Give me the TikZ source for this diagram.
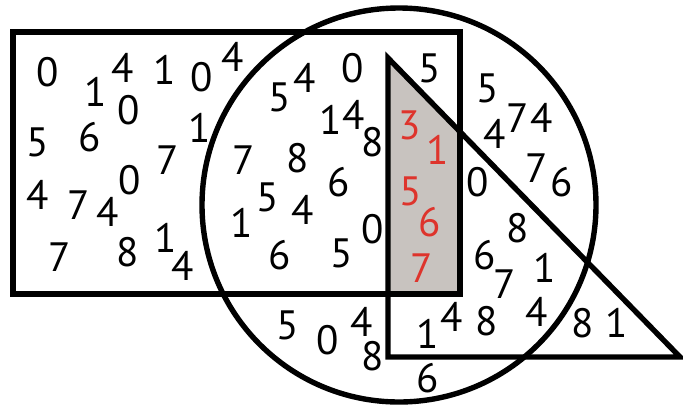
\documentclass[tikz,border=0pt]{standalone}
\usepackage{fontspec}
\setmainfont{PT Sans}
\definecolor{shadegray}{RGB}{200,195,191}
\definecolor{digred}{RGB}{222,52,44}
\begin{document}
\begin{tikzpicture}[x=1pt,y=-1pt,
  shapeline/.style={line width=5.4pt, line join=miter},
  dg/.style={inner sep=0pt, font=\fontsize{41}{41}\selectfont},
  rd/.style={dg, text=digred}]
\useasboundingbox (0,0) rectangle (683,405);
% shaded intersection
\fill[fill=shadegray] (388,58) -- (460,131) -- (460,294) -- (388,294) -- cycle;
% rectangle, circle, triangle
\draw[shapeline] (13,32) rectangle (460,294);
\draw[shapeline] (399,205) circle (197);
\draw[shapeline] (388,58) -- (680,357) -- (388,357) -- cycle;
% rectangle only
\node[dg] (a1) at (48,72) {0};
\node[dg] (a2) at (96,92) {1};
\node[dg] (a3) at (123,68) {4};
\node[dg] (a4) at (165,70) {1};
\node[dg] (a5) at (202,77) {0};
\node[dg] (a6) at (233,57) {4};
\node[dg] (a7) at (129,110) {0};
\node[dg] (a8) at (38,142) {5};
\node[dg] (a9) at (90,137) {6};
\node[dg] (a10) at (200,128) {1};
\node[dg] (a11) at (168,160) {7};
\node[dg] (a12) at (130,180) {0};
\node[dg] (a13) at (38,195) {4};
\node[dg] (a14) at (79,205) {7};
\node[dg] (a15) at (108,212) {4};
\node[dg] (a16) at (60,257) {7};
\node[dg] (a17) at (128,252) {8};
\node[dg] (a18) at (166,238) {1};
\node[dg] (a19) at (183,266) {4};
% rectangle and circle
\node[dg] (b1) at (280,97) {5};
\node[dg] (b2) at (305,78) {4};
\node[dg] (b3) at (353,68) {0};
\node[dg] (b4) at (331,120) {1};
\node[dg] (b5) at (354,115) {4};
\node[dg] (b6) at (373,142) {8};
\node[dg] (b7) at (244,160) {7};
\node[dg] (b8) at (298,158) {8};
\node[dg] (b9) at (339,182) {6};
\node[dg] (b10) at (268,197) {5};
\node[dg] (b11) at (303,210) {4};
\node[dg] (b12) at (242,223) {1};
\node[dg] (b13) at (373,229) {0};
\node[dg] (b14) at (280,255) {6};
\node[dg] (b15) at (342,253) {5};
\node[dg] (b16) at (430,68) {5};
% all three (red)
\node[rd] (r1) at (410,125) {3};
\node[rd] (r2) at (438,150) {1};
\node[rd] (r3) at (411,191) {5};
\node[rd] (r4) at (430,222) {6};
\node[rd] (r5) at (422,268) {7};
% circle only
\node[dg] (c1) at (488,88) {5};
\node[dg] (c2) at (495,134) {4};
\node[dg] (c3) at (518,118) {7};
\node[dg] (c4) at (542,118) {4};
\node[dg] (c5) at (537,168) {7};
\node[dg] (c6) at (562,182) {6};
\node[dg] (c7) at (288,325) {5};
\node[dg] (c8) at (328,340) {0};
\node[dg] (c9) at (362,322) {4};
\node[dg] (c10) at (373,356) {8};
\node[dg] (c11) at (428,378) {6};
% circle and triangle
\node[dg] (t1) at (478,182) {0};
\node[dg] (t2) at (518,228) {8};
\node[dg] (t3) at (485,255) {6};
\node[dg] (t4) at (505,284) {7};
\node[dg] (t5) at (545,268) {1};
\node[dg] (t6) at (537,312) {4};
\node[dg] (t7) at (487,321) {8};
\node[dg] (t8) at (452,317) {4};
\node[dg] (t9) at (428,334) {1};
% triangle only
\node[dg] (u1) at (583,323) {8};
\node[dg] (u2) at (617,323) {1};
\end{tikzpicture}
\end{document}
